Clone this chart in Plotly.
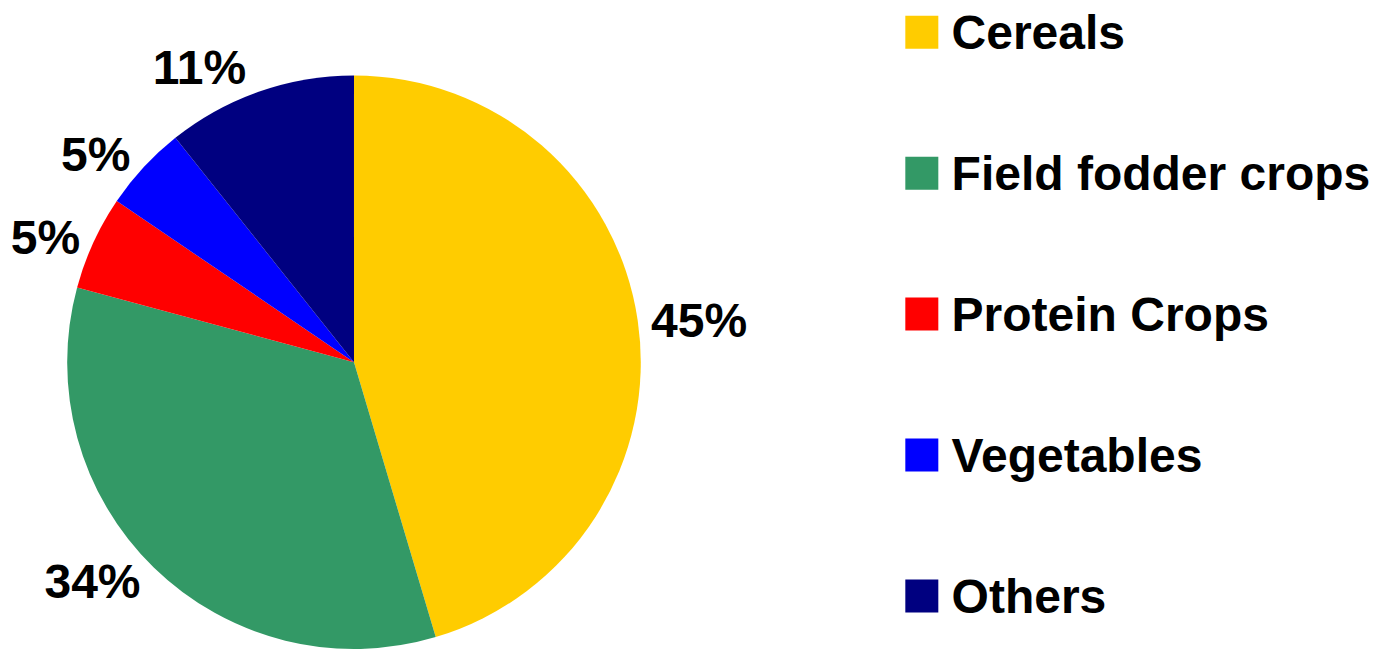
import plotly.graph_objects as go

categories = ["Cereals", "Field fodder crops", "Protein Crops", "Vegetables", "Others"]
shares = [45.4, 33.8, 5.3, 4.8, 10.7]
colors = ["#FFCC00", "#339966", "#FF0000", "#0000FF", "#000080"]

FONT = "Arial, 'Liberation Sans', sans-serif"
W, H = 1375, 654

fig = go.Figure()

fig.add_trace(go.Pie(
    labels=categories,
    values=shares,
    sort=False,
    direction="clockwise",
    rotation=0,
    marker=dict(colors=colors, line=dict(width=0)),
    texttemplate="%{percent:.0%}",
    textposition="outside",
    textfont=dict(family=FONT, size=48, color="black", weight="bold"),
    domain=dict(x=[61 / W, 641 / W], y=[0, (H - 76) / H]),
    showlegend=False,
    hoverinfo="label+percent",
))

# legend drawn as a category column on the right
fig.add_trace(go.Scatter(
    x=[0] * len(categories),
    y=categories,
    mode="markers",
    marker=dict(symbol="square", size=33, color=colors, line=dict(width=0)),
    xaxis="x", yaxis="y",
    showlegend=False, hoverinfo="skip", cliponaxis=False,
))
fig.add_trace(go.Scatter(
    x=[0] * len(categories),
    y=categories,
    mode="markers+text",
    text=categories,
    textposition="middle right",
    textfont=dict(family=FONT, size=48, color="black", weight="bold"),
    marker=dict(symbol="square", size=46, color="rgba(0,0,0,0)"),
    xaxis="x", yaxis="y2",
    showlegend=False, hoverinfo="skip", cliponaxis=False,
))

axis_off = dict(visible=False, showgrid=False, zeroline=False, fixedrange=True)
fig.update_layout(
    width=W, height=H,
    margin=dict(l=0, r=0, t=0, b=0),
    paper_bgcolor="white", plot_bgcolor="rgba(0,0,0,0)",
    showlegend=False,
    xaxis=dict(domain=[0.6, 1], range=[-1, 4.759], **axis_off),
    yaxis=dict(domain=[0, 1], type="category", categoryorder="array",
               categoryarray=categories, range=[4.377, -0.229], **axis_off),
    yaxis2=dict(domain=[0, 1], type="category", categoryorder="array",
                categoryarray=categories, range=[4.342, -0.264],
                overlaying="y", **axis_off),
)

fig.write_html(
    "out.html",
    config={"displayModeBar": False},
    post_script="document.body.style.margin='0';document.body.style.overflow='hidden';",
)
